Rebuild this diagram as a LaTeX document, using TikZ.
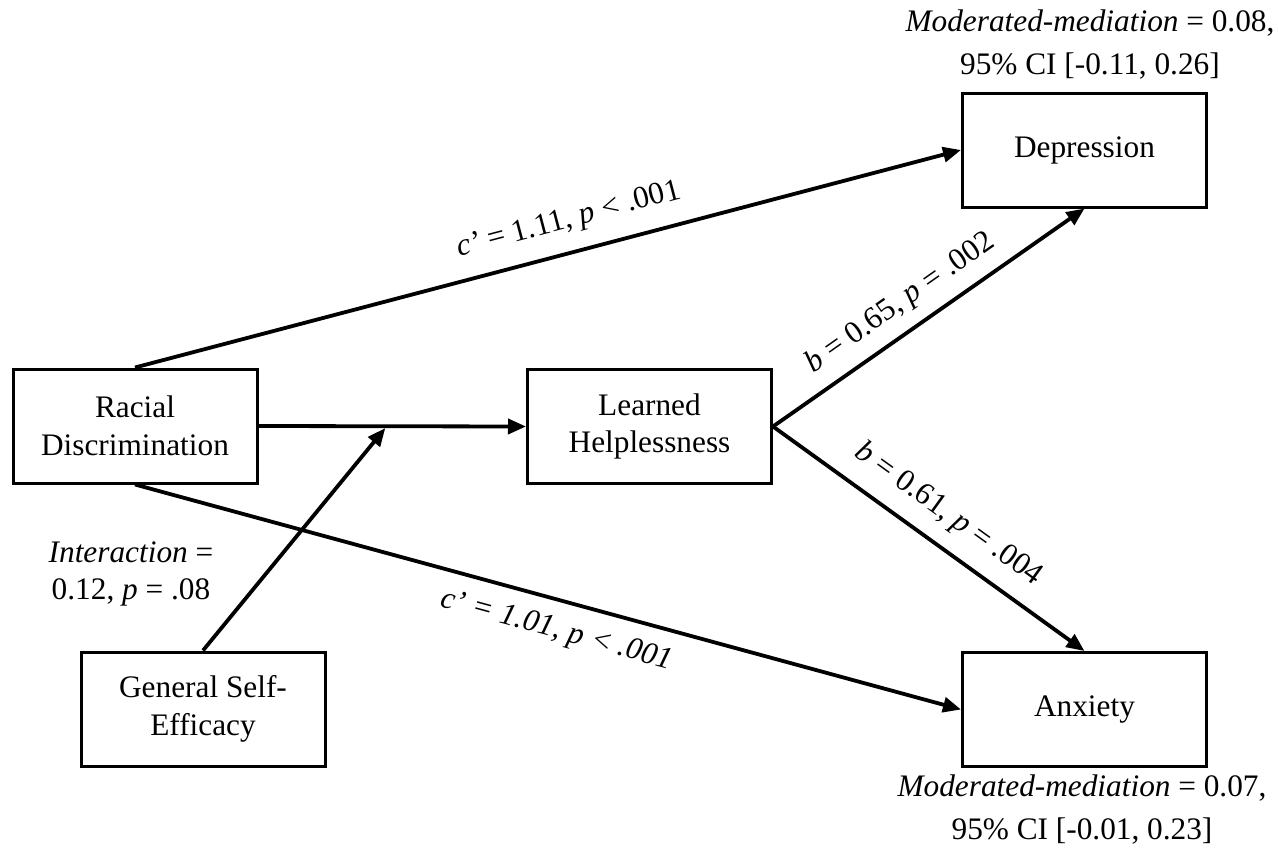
\documentclass[tikz,border=0pt]{standalone}
\usepackage{fontspec}
\setmainfont{Liberation Serif}
\usetikzlibrary{arrows.meta,calc}
\begin{document}
\begin{tikzpicture}[x=1pt,y=-1pt,
  every node/.style={font=\fontsize{31.3}{37.5}\selectfont},
  var/.style={draw, line width=3pt, minimum width=244pt, minimum height=114pt,
              align=center, inner sep=0pt},
  link/.style={line width=3.8pt, -{Triangle[length=18pt,width=15pt]}},
  lbl/.style={inner sep=0pt, align=center},
  note/.style={lbl, font=\fontsize{31.3}{43}\selectfont}
]
\useasboundingbox (0,0) rectangle (1278,849);

% variables
\node[var] (rd)  at (135,426)     {Racial\\Discrimination};
\node[var] (lh)  at (649.5,426.5) {Learned\\Helplessness};
\node[var] (dep) at (1084.5,150)  {Depression};
\node[var] (anx) at (1084.5,709.5){Anxiety};
\node[var] (gse) at (203,709)     {General Self-\\Efficacy};

% moderation point on the a-path
\coordinate (mod) at ($(rd.east)!0.474!(lh.west)$);

% paths
\draw[link] (rd.east) -- (lh.west);
\draw[link] (gse.north) -- ([yshift=-1.9pt]mod);
\draw[link] (rd.north) -- node[lbl, sloped, above=16pt, pos=0.535]
  {\textit{c’} = 1.11, \textit{p} < .001} (dep.west);
\draw[link] (rd.south) -- node[lbl, sloped, below=15pt, pos=0.52]
  {\textit{c’ = 1.01, p < .001}} (anx.west);
\draw[link] (lh.east) -- node[lbl, sloped, above=12pt, pos=0.46]
  {\textit{b} = 0.65, \textit{p} = .002} (dep.south);
\draw[link] (lh.east) -- node[lbl, sloped, above=15pt, pos=0.505]
  {\textit{b} = 0.61, \textit{p} = .004} (anx.north);

% annotations
\node[lbl] (inter) at (131,574) {\textit{Interaction} =\\0.12, \textit{p} = .08};
\node[note] (mmdep) at (1090,45) {\textit{Moderated-mediation} = 0.08,\\95\% CI [-0.11, 0.26]};
\node[note] (mmanx) at (1082,810) {\textit{Moderated-mediation} = 0.07,\\95\% CI [-0.01, 0.23]};
\end{tikzpicture}
\end{document}
